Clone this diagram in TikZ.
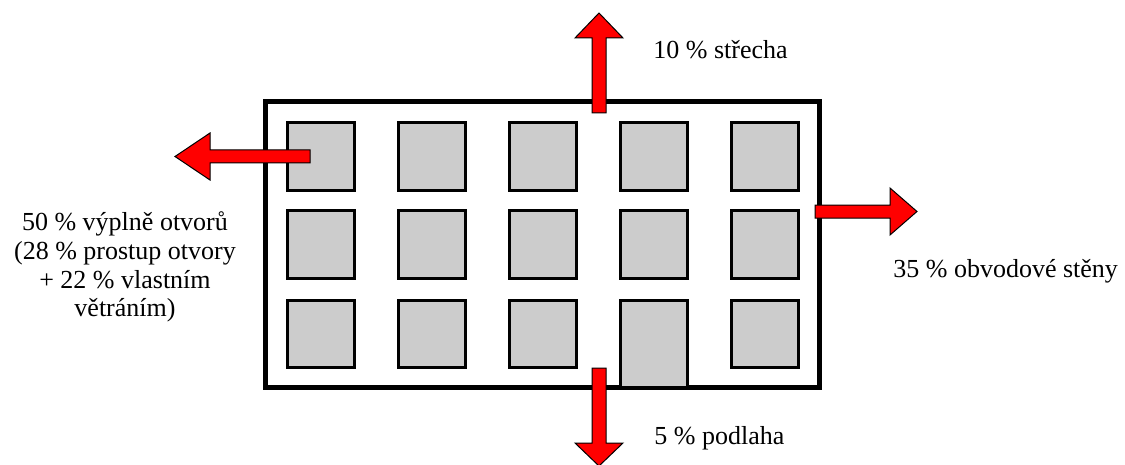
\documentclass[tikz,border=0pt]{standalone}
\usepackage{fontspec}
\setmainfont{Liberation Serif}
\begin{document}
\begin{tikzpicture}[x=0.5pt,y=-0.5pt,
  wall/.style={draw=black,line width=2.5pt},
  window/.style={draw=black,fill=black!20,line width=1.5pt},
  heatflow/.style={draw=black,fill=red,line width=0.5pt,line join=miter},
  label/.style={font=\fontsize{13}{14.4}\selectfont,inner sep=0pt}]
\useasboundingbox (0,0) rectangle (1125,465);
% building outline
\draw[wall] (265.5,102) rectangle (819,387);
% windows: five columns, three rows
\foreach \cx in {287.5,398.5,509.5,620.5,731}{
  \foreach \ry in {122.5,210.5}{
    \draw[window] (\cx,\ry) rectangle ++(67,68);
  }
}
\foreach \cx in {287.5,398.5,509.5,731}{
  \draw[window] (\cx,300.5) rectangle ++(67,67);
}
% door reaching down to the floor
\draw[window] (620.5,300.5) rectangle (687.5,387);
% heat loss arrows
\draw[heatflow] (592,113) -- (592,38) -- (575,38) -- (599,13) -- (623,38) -- (606,38) -- (606,113) -- cycle;
\draw[heatflow] (310,150) -- (210,150) -- (210,133) -- (175,156.5) -- (210,180) -- (210,163) -- (310,163) -- cycle;
\draw[heatflow] (815,205) -- (890,205) -- (890,188) -- (917,211.5) -- (890,235) -- (890,218) -- (815,218) -- cycle;
\draw[heatflow] (592,368) -- (592,443) -- (575,443) -- (599,466) -- (623,443) -- (606,443) -- (606,368) -- cycle;
% shares of heat loss
\node[label,anchor=base west] (roof) at (653,59) {10 \% střecha};
\node[label,anchor=base west] (floor) at (654,444) {5 \% podlaha};
\node[label,anchor=base west] (walls) at (893,278) {35 \% obvodové stěny};
\node[label,align=center,anchor=center] (openings) at (125,267) {50 \% výplně otvorů\\(28 \% prostup otvory\\+ 22 \% vlastním\\větráním)};
\end{tikzpicture}
\end{document}
